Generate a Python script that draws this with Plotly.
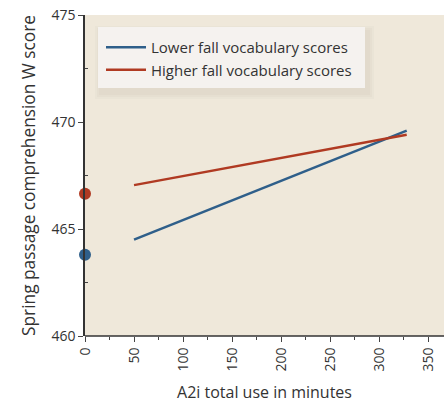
import plotly.graph_objects as go

lower_x = [50, 328]
lower_y = [464.5, 469.6]
higher_x = [50, 328]
higher_y = [467.05, 469.4]
baseline_x = [0, 0]
baseline_y = [463.8, 466.65]
series_names = ["Lower fall vocabulary scores", "Higher fall vocabulary scores"]
blue = "#2f5f8a"
red = "#b03a22"

fig = go.Figure()
fig.add_trace(go.Scatter(x=lower_x, y=lower_y, mode="lines", name=series_names[0],
                         line=dict(color=blue, width=2.5)))
fig.add_trace(go.Scatter(x=higher_x, y=higher_y, mode="lines", name=series_names[1],
                         line=dict(color=red, width=2.5)))
fig.add_trace(go.Scatter(x=baseline_x, y=baseline_y, mode="markers", showlegend=False,
                         marker=dict(color=[blue, red], size=12), cliponaxis=False))

W, H = 444, 404
L, T, B, R = 85, 15, 68, 0
pw, ph = W - L - R, H - T - B

def px(xp):  # picture x -> paper fraction
    return (xp - L) / pw

def py(yp):  # picture y -> paper fraction
    return 1 - (yp - T) / ph

font = "Open Sans"
fig.update_layout(
    width=W, height=H,
    margin=dict(l=L, r=R, t=T, b=B, autoexpand=False),
    paper_bgcolor="white", plot_bgcolor="#efe8da",
    font=dict(family=font, size=14, color="#333"),
    legend=dict(x=px(101), y=py(31), xanchor="left", yanchor="top",
                bgcolor="rgba(0,0,0,0)", borderwidth=0, font=dict(size=15),
                itemwidth=40, tracegroupgap=0),
    xaxis=dict(range=[0, 366], tickvals=[0, 50, 100, 150, 200, 250, 300, 350],
               tickangle=-90, ticks="outside", ticklen=5, showgrid=False, zeroline=False,
               showline=False, automargin=False, ticklabeloverflow="allow",
               title=dict(text="A2i total use in minutes", standoff=16, font=dict(size=16)),
               minor=dict(tickvals=[25, 75, 125, 175, 225, 275, 325], ticks="outside", ticklen=3)),
    yaxis=dict(range=[460, 475], tickvals=[460, 465, 470, 475], ticks="outside", ticklen=5,
               showgrid=False, zeroline=False, showline=True, linecolor="#333", linewidth=1.5,
               automargin=False, ticklabeloverflow="allow",
               title=dict(text="Spring passage comprehension W score", standoff=11, font=dict(size=17.3)),
               minor=dict(tickvals=[462.5, 467.5, 472.5], ticks="inside", ticklen=3)),
)
# legend panel with soft shadow
for i, c in enumerate(["#e6dfd2", "#e2dacc", "#ddd5c7"]):
    d = 6 - 2 * i
    fig.add_shape(type="rect", xref="paper", yref="paper", layer="below",
                  x0=px(98 - d + 3), x1=px(365 + d + 3), y0=py(88 + d + 5), y1=py(27 - d + 5),
                  line=dict(width=0), fillcolor=c, opacity=0.5)
fig.add_shape(type="rect", xref="paper", yref="paper", layer="below",
              x0=px(98), x1=px(365), y0=py(88), y1=py(27),
              line=dict(width=0), fillcolor="#f5f2ef")
fig.add_shape(type="line", xref="x", yref="paper", x0=0, x1=366, y0=0, y1=0,
              line=dict(color="#333", width=1.5))
fig.write_html("out.html", config={"displayModeBar": False},
               post_script="document.body.style.margin='0';document.body.style.overflow='hidden';")
